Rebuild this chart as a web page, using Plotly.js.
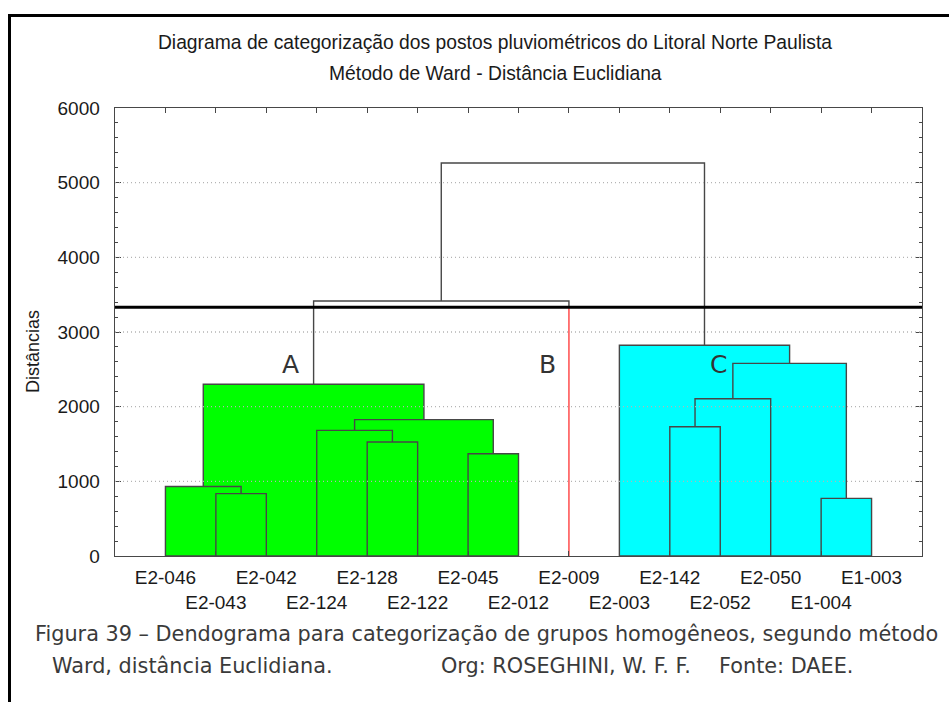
<!DOCTYPE html>
<html>
<head>
<meta charset="utf-8">
<script src="https://cdn.plot.ly/plotly-3.0.1.min.js"></script>
<style>
  html, body { margin: 0; padding: 0; background: #fff; }
  #wrap { position: relative; width: 949px; height: 702px; overflow: hidden; }
  #chart { width: 949px; height: 702px; }
  #frame { position: absolute; left: 8px; top: 14px; right: -10px; bottom: -10px;
           border-left: 3px solid #000; border-top: 3px solid #000; pointer-events: none; }
</style>
</head>
<body>
<div id="wrap"><div id="chart"></div><div id="frame"></div></div>
<script>
// ---- data ----
const leaves = ['E2-046','E2-043','E2-042','E2-124','E2-128','E2-122','E2-045','E2-012',
                'E2-009','E2-003','E2-142','E2-052','E2-050','E1-004','E1-003'];
// merges: left child, right child, height; children are leaf names or merge ids "m#"
const mergeLeft   = ['E2-043','E2-046','E2-128','E2-124','E2-045','m3','m1','m6',
                     'E1-004','E2-142','m9','m10','E2-003','m7'];
const mergeRight  = ['E2-042','m0','E2-122','m2','E2-012','m4','m5','E2-009',
                     'E1-003','E2-052','E2-050','m8','m11','m12'];
const mergeHeight = [835, 930, 1527, 1683, 1370, 1826, 2300, 3415,
                     772, 1732, 2107, 2580, 2822, 5263];
const clusterRoots  = ['m6', 'm12'];          // groups drawn filled
const clusterColors = ['#00ff00', '#00ffff'];
const cutHeight = 3330;
const gridValues = [1000, 2000, 3000, 4000, 5000];
const groupLabels = ['A', 'B', 'C'];
const groupLabelX = [3.48, 8.58, 11.97];
const groupLabelY = [2560, 2560, 2560];

// ---- layout of tree ----
const pos = {}, hgt = {};
leaves.forEach((n, i) => { pos[n] = i + 1; hgt[n] = 0; });
mergeHeight.forEach((h, i) => {
  const id = 'm' + i;
  pos[id] = (pos[mergeLeft[i]] + pos[mergeRight[i]]) / 2;
  hgt[id] = h;
});
const colorOf = {};
function mark(id, col) {
  if (!id.startsWith('m')) return;
  colorOf[id] = col;
  const i = +id.slice(1);
  mark(mergeLeft[i], col); mark(mergeRight[i], col);
}
clusterRoots.forEach((r, k) => mark(r, clusterColors[k]));

const outline = '#474747';
const traces = [];
// filled rectangles, largest first
const filled = mergeHeight.map((h, i) => i).filter(i => colorOf['m' + i])
  .sort((a, b) => mergeHeight[b] - mergeHeight[a]);
filled.forEach(i => {
  const xl = pos[mergeLeft[i]], xr = pos[mergeRight[i]], h = mergeHeight[i];
  traces.push({
    type: 'scatter', mode: 'lines', x: [xl, xl, xr, xr, xl], y: [0, h, h, 0, 0],
    fill: 'toself', fillcolor: colorOf['m' + i],
    line: { color: outline, width: 1.4 }, hoverinfo: 'skip', showlegend: false
  });
});
// unfilled links
mergeHeight.forEach((h, i) => {
  if (colorOf['m' + i]) return;
  const a = mergeLeft[i], b = mergeRight[i];
  const xl = pos[a], xr = pos[b];
  const yl = hgt[a] === 0 ? cutHeight : hgt[a];
  const yr = hgt[b] === 0 ? cutHeight : hgt[b];
  traces.push({
    type: 'scatter', mode: 'lines', x: [xl, xl, xr, xr], y: [yl, h, h, yr],
    line: { color: outline, width: 1.4 }, hoverinfo: 'skip', showlegend: false
  });
  [a, b].forEach(c => {
    if (hgt[c] === 0) {
      traces.push({
        type: 'scatter', mode: 'lines', x: [pos[c], pos[c]], y: [0, cutHeight],
        line: { color: '#ff4040', width: 1.4 }, hoverinfo: 'skip', showlegend: false
      });
    }
  });
});

const shapes = gridValues.map(v => ({
  type: 'line', xref: 'paper', yref: 'y', x0: 0, x1: 1, y0: v, y1: v, layer: 'above',
  line: { color: '#b4b4b4', width: 1.3, dash: '1px,3px' }
}));
shapes.push({
  type: 'line', xref: 'paper', yref: 'y', x0: 0, x1: 1, y0: cutHeight, y1: cutHeight,
  layer: 'above', line: { color: '#000', width: 3 }
});

const L = 115, R = 922, T = 108, B = 556;
const px = x => (x - L) / (R - L);
const py = y => (B - y) / (B - T);

const annotations = groupLabels.map((t, k) => ({
  text: t, x: groupLabelX[k], y: groupLabelY[k], xref: 'x', yref: 'y', showarrow: false,
  xanchor: 'center', yanchor: 'middle',
  font: { family: 'DejaVu Sans, Verdana, sans-serif', size: 25, color: '#333' }
}));
const txtFont = { family: 'Liberation Sans, Arial, sans-serif', size: 19.3, color: '#1a1a1a' };
annotations.push({
  text: 'Método de Ward - Distância Euclidiana', x: px(495), y: py(73),
  xref: 'paper', yref: 'paper', xanchor: 'center', yanchor: 'middle', showarrow: false, font: txtFont
});
annotations.push({
  text: 'Distâncias', x: px(33), y: py(352), textangle: -90,
  xref: 'paper', yref: 'paper', xanchor: 'center', yanchor: 'middle', showarrow: false,
  font: { family: 'Liberation Sans, Arial, sans-serif', size: 18, color: '#1a1a1a' }
});
const capFont = { family: 'DejaVu Sans, Verdana, sans-serif', size: 20.8, color: '#3a3a3a' };
annotations.push({
  text: 'Figura 39 – Dendograma para categorização de grupos homogêneos, segundo método',
  x: px(33), y: py(634), xref: 'paper', yref: 'paper', xanchor: 'left', yanchor: 'middle',
  showarrow: false, font: capFont
});
annotations.push({
  text: 'Ward, distância Euclidiana.', x: px(50), y: py(666),
  xref: 'paper', yref: 'paper', xanchor: 'left', yanchor: 'middle', showarrow: false, font: capFont
});
annotations.push({
  text: 'Org: ROSEGHINI, W. F. F.', x: px(439), y: py(666),
  xref: 'paper', yref: 'paper', xanchor: 'left', yanchor: 'middle', showarrow: false, font: capFont
});
annotations.push({
  text: 'Fonte: DAEE.', x: px(717), y: py(666),
  xref: 'paper', yref: 'paper', xanchor: 'left', yanchor: 'middle', showarrow: false, font: capFont
});

const layout = {
  width: 949, height: 702,
  margin: { l: L, r: 949 - R, t: T, b: 702 - B },
  paper_bgcolor: '#fff', plot_bgcolor: '#fff',
  showlegend: false,
  title: {
    text: 'Diagrama de categorização dos postos pluviométricos do Litoral Norte Paulista',
    x: px(495), xanchor: 'center', xref: 'paper', y: 1 - 42 / 702, yanchor: 'middle',
    font: txtFont
  },
  xaxis: {
    range: [0, 16], tickmode: 'array',
    tickvals: leaves.map((n, i) => i + 1),
    ticktext: leaves.map((n, i) => (i % 2 ? '<br>' + n : n)),
    tickangle: 0, automargin: false,
    ticks: 'inside', ticklen: 5, tickcolor: outline, mirror: 'ticks',
    showline: true, linecolor: outline, linewidth: 1.4,
    showgrid: false, zeroline: false, ticklabelstandoff: 4,
    tickfont: { family: 'Liberation Sans, Arial, sans-serif', size: 19, color: '#1a1a1a' },
    fixedrange: true
  },
  yaxis: {
    range: [0, 6000], tickmode: 'linear', tick0: 0, dtick: 1000,
    ticks: 'inside', ticklen: 6, tickcolor: outline, mirror: 'ticks',
    minor: { ticks: 'inside', dtick: 200, ticklen: 3, tickcolor: outline, showgrid: false },
    showline: true, linecolor: outline, linewidth: 1.4,
    showgrid: false, zeroline: false, ticklabelstandoff: 10, automargin: false,
    tickfont: { family: 'Liberation Sans, Arial, sans-serif', size: 19, color: '#1a1a1a' },
    fixedrange: true
  },
  shapes: shapes,
  annotations: annotations
};

Plotly.newPlot('chart', traces, layout, { displayModeBar: false, staticPlot: true });
</script>
</body>
</html>
